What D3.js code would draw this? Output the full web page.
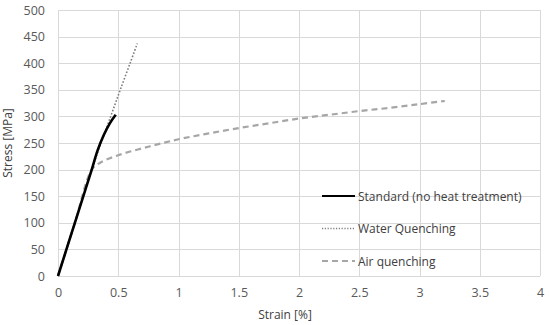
<!DOCTYPE html>
<html><head><meta charset="utf-8">
<script src="https://cdn.jsdelivr.net/npm/d3@7"></script>
<style>body{margin:0;background:#fff}svg{display:block}text{font-family:"Open Sans","Noto Sans",sans-serif}</style>
</head><body>
<svg id="c" width="550" height="325"></svg>
<script>
const xTicks = [0, 0.5, 1, 1.5, 2, 2.5, 3, 3.5, 4];
const yTicks = [0, 50, 100, 150, 200, 250, 300, 350, 400, 450, 500];
const seriesNames = ["Standard (no heat treatment)", "Water Quenching", "Air quenching"];
const standardStrain = [0, 0.14, 0.28, 0.33, 0.38, 0.43, 0.479];
const standardStress = [0, 100, 200, 237, 265, 287, 303];
const waterStrain = [0, 0.14, 0.28, 0.37, 0.45, 0.52, 0.6, 0.658];
const waterStress = [0, 100, 200, 258, 308, 352, 401, 437];
const airStrain = [0, 0.14, 0.28, 0.35, 0.5, 0.75, 1, 1.25, 1.5, 1.75, 2, 2.25, 2.5, 2.75, 3, 3.21];
const airStress = [0, 100, 200, 213, 227, 243, 257, 268, 278, 287, 296, 303, 310, 316, 323, 329];

const svg = d3.select("#c");
const m = {l: 58, r: 10, t: 10, b: 49};
const W = 550, H = 325;
const x = d3.scaleLinear().domain([0, 4]).range([m.l, W - m.r]);
const y = d3.scaleLinear().domain([0, 500]).range([H - m.b, m.t]);

const g = svg.append("g");
g.selectAll(".gx").data(xTicks).enter().append("line")
  .attr("x1", d => Math.round(x(d)) + 0.5).attr("x2", d => Math.round(x(d)) + 0.5)
  .attr("y1", y(0)).attr("y2", y(500)).attr("stroke", "#d9d9d9").attr("stroke-width", 1);
g.selectAll(".gy").data(yTicks).enter().append("line")
  .attr("y1", d => Math.round(y(d)) + 0.5).attr("y2", d => Math.round(y(d)) + 0.5)
  .attr("x1", x(0)).attr("x2", x(4)).attr("stroke", "#d9d9d9").attr("stroke-width", 1);

const xa = svg.append("g").attr("transform", `translate(0,${y(0)})`)
  .call(d3.axisBottom(x).tickValues(xTicks).tickSize(0).tickPadding(12).tickFormat(d3.format("")));
const ya = svg.append("g").attr("transform", `translate(${x(0)},0)`)
  .call(d3.axisLeft(y).tickValues(yTicks).tickSize(0).tickPadding(13).tickFormat(d3.format("")));
[xa, ya].forEach(a => {
  a.select(".domain").remove();
  a.selectAll("text").attr("fill", "#595959").style("font-size", "12.5px").style("font-family", '"Open Sans","Noto Sans",sans-serif');
});

svg.append("text").attr("x", 285).attr("y", 319).attr("text-anchor", "middle")
  .attr("fill", "#404040").style("font-size", "12px").text("Strain [%]");
svg.append("text").attr("transform", `translate(12,143) rotate(-90)`).attr("text-anchor", "middle")
  .attr("fill", "#404040").style("font-size", "12px").text("Stress [MPa]");

const line = d3.line().x(d => x(d[0])).y(d => y(d[1])).curve(d3.curveCatmullRom.alpha(0.5));
const zip = (a, b) => a.map((v, i) => [v, b[i]]);
const styles = [
  {stroke: "#000000", w: 2.6, dash: null},
  {stroke: "#7f7f7f", w: 1.6, dash: "1.6,1.8"},
  {stroke: "#a6a6a6", w: 2.2, dash: "6,4"}
];
const data = [zip(standardStrain, standardStress), zip(waterStrain, waterStress), zip(airStrain, airStress)];
[2, 1, 0].forEach(i => {
  svg.append("path").datum(data[i]).attr("d", line).attr("fill", "none")
    .attr("stroke", styles[i].stroke).attr("stroke-width", styles[i].w)
    .attr("stroke-dasharray", styles[i].dash);
});

const ly = [196, 228.5, 261];
seriesNames.forEach((n, i) => {
  svg.append("line").attr("x1", 322).attr("x2", 355).attr("y1", ly[i]).attr("y2", ly[i])
    .attr("stroke", styles[i].stroke).attr("stroke-width", i === 0 ? 2 : styles[i].w)
    .attr("stroke-dasharray", i === 1 ? "1.2,1.6" : styles[i].dash);
  svg.append("text").attr("x", 358).attr("y", ly[i] + 4.5).attr("fill", "#404040")
    .style("font-size", "12px").text(n);
});
</script>
</body></html>
